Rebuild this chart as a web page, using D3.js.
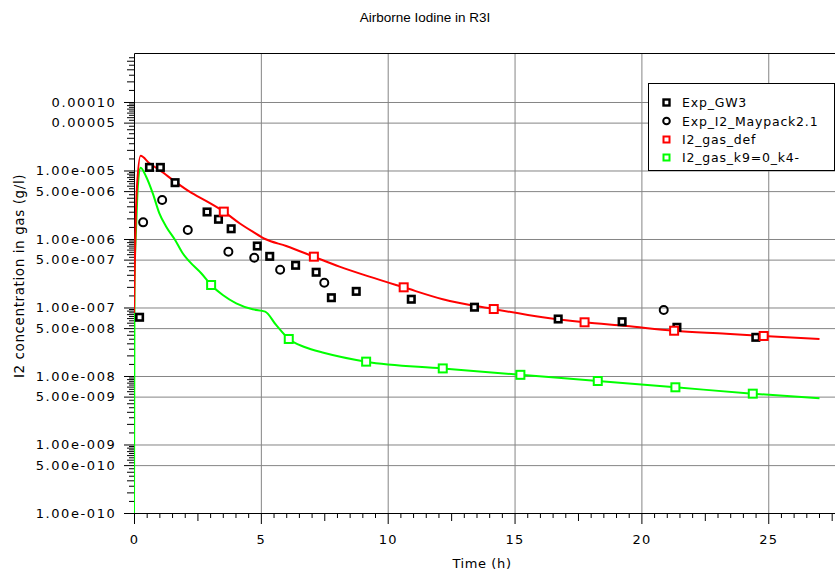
<!DOCTYPE html>
<html>
<head>
<meta charset="utf-8">
<script src="https://cdn.jsdelivr.net/npm/d3@7"></script>
<style>
  html, body { margin: 0; padding: 0; background: #fff; }
  svg { display: block; }
</style>
</head>
<body>
<svg id="chart" width="835" height="574"></svg>
<script>
// Measured gaseous I2 (Exp_GW3)
const gw3Time = [0.22, 0.61, 1.04, 1.62, 2.88, 3.33, 3.83, 4.86, 5.35, 6.37, 7.18, 7.78, 8.76, 10.93, 13.42, 16.72, 19.24, 21.4, 24.51];
const gw3Conc = [7.2e-8, 1.11e-5, 1.11e-5, 6.64e-6, 2.48e-6, 1.94e-6, 1.41e-6, 7.9e-7, 5.58e-7, 4.13e-7, 3.27e-7, 1.39e-7, 1.72e-7, 1.32e-7, 1.01e-7, 6.79e-8, 6.2e-8, 5.14e-8, 3.67e-8];

// Measured gaseous I2 (Exp_I2_Maypack2.1)
const maypackTime = [0.36, 1.11, 2.12, 3.72, 4.74, 5.76, 7.5, 20.88];
const maypackConc = [1.75e-6, 3.7e-6, 1.35e-6, 6.5e-7, 5.33e-7, 3.56e-7, 2.3e-7, 9.2e-8];

// Calculated I2_gas_def
const defTime = [0, 0.02, 0.05, 0.11, 0.26, 0.61, 1.0, 1.62, 2.19, 2.89, 3.54, 4.16, 4.68, 5.17, 6.0, 7.09, 8.1, 9.28, 10.63, 12.17, 14.18, 16.11, 17.76, 19.4, 21.29, 23.34, 24.82, 27.02];
const defConc = [8.3e-8, 2.4e-7, 9.7e-7, 5.2e-6, 1.64e-5, 1.27e-5, 1.02e-5, 6.87e-6, 4.91e-6, 3.51e-6, 2.51e-6, 1.70e-6, 1.28e-6, 1.0e-6, 7.9e-7, 5.52e-7, 3.95e-7, 2.82e-7, 1.97e-7, 1.32e-7, 9.5e-8, 7.19e-8, 6.08e-8, 5.37e-8, 4.58e-8, 4.15e-8, 3.84e-8, 3.47e-8];
const defMarkTime = [3.54, 7.09, 10.63, 14.18, 17.76, 21.29, 24.82];

// Calculated I2_gas_k9=0_k4-
const k9Time = [0, 0.02, 0.09, 0.15, 0.26, 0.48, 0.74, 1.0, 1.27, 1.62, 1.92, 2.19, 2.65, 3.04, 3.5, 4.03, 4.68, 5.17, 5.6, 6.1, 6.72, 7.51, 9.15, 12.17, 15.23, 18.28, 21.34, 24.39, 27.02];
const k9Conc = [1e-10, 2.38e-7, 1.69e-6, 5.8e-6, 1.1e-5, 8.1e-6, 4.64e-6, 2.37e-6, 1.51e-6, 9.66e-7, 6.18e-7, 4.67e-7, 3.16e-7, 2.13e-7, 1.52e-7, 1.15e-7, 9.4e-8, 8.7e-8, 5.56e-8, 3.47e-8, 2.65e-8, 2.17e-8, 1.62e-8, 1.29e-8, 1.04e-8, 8.45e-9, 6.84e-9, 5.52e-9, 4.72e-9];
const k9MarkTime = [3.04, 6.1, 9.15, 12.17, 15.23, 18.28, 21.34, 24.39];

// Axis ticks
const xTickValues = [0, 5, 10, 15, 20, 25];
const yTickValues = [1e-10, 5e-10, 1e-9, 5e-9, 1e-8, 5e-8, 1e-7, 5e-7, 1e-6, 5e-6, 1e-5, 5e-5, 1e-4];
const yTickLabels = ["1.00e-010", "5.00e-010", "1.00e-009", "5.00e-009", "1.00e-008", "5.00e-008", "1.00e-007", "5.00e-007", "1.00e-006", "5.00e-006", "1.00e-005", "0.00005", "0.00010"];

const legendNames = ["Exp_GW3", "Exp_I2_Maypack2.1", "I2_gas_def", "I2_gas_k9=0_k4-"];

const W = 835, H = 574;
const plotLeft = 134, plotTop = 53, plotBottom = 513;
const svg = d3.select("#chart");

const x = d3.scaleLinear().domain([0, 28]).range([plotLeft, plotLeft + 25.37 * 28]);
const y = d3.scaleLog().domain([1e-10, 5.19e-4]).range([plotBottom, plotTop]);

const gridColor = "#858585";
const tickFont = "DejaVu Sans, sans-serif";

// minor tick positions
const yMinorInt = [], yMinorHalf = [];
for (let e = -10; e <= -4; e++) {
  for (let m = 1.5; m < 10; m += 0.5) {
    const v = m * Math.pow(10, e);
    if (v > 5.19e-4 || m === 5) continue;
    (Number.isInteger(m) ? yMinorInt : yMinorHalf).push(v);
  }
}
const xMinorMid = [], xMinorSmall = [];
for (let t = 0.5; t <= 27.5; t += 0.5) {
  if (t % 5 === 0) continue;
  (t % 2.5 === 0 ? xMinorMid : xMinorSmall).push(t);
}

// grid
svg.append("g")
  .attr("transform", `translate(${plotLeft},0)`)
  .call(d3.axisLeft(y).tickValues(yTickValues.slice(1)).tickSize(-(W - plotLeft)).tickFormat("").tickSizeOuter(0))
  .call(g => g.select(".domain").remove())
  .call(g => g.selectAll("line").attr("stroke", gridColor));
svg.append("g")
  .attr("transform", `translate(0,${plotBottom})`)
  .call(d3.axisBottom(x).tickValues(xTickValues.slice(1)).tickSize(-(plotBottom - plotTop)).tickFormat("").tickSizeOuter(0))
  .call(g => g.select(".domain").remove())
  .call(g => g.selectAll("line").attr("stroke", gridColor));

// frame top
svg.append("line")
  .attr("x1", plotLeft + 0.5).attr("x2", W).attr("y1", plotTop + 0.5).attr("y2", plotTop + 0.5)
  .attr("stroke", "#000");

// y axis
const yAxisG = svg.append("g").attr("transform", `translate(${plotLeft},0)`);
yAxisG.append("g").call(d3.axisLeft(y).tickValues(yMinorHalf).tickSize(5).tickFormat("").tickSizeOuter(0))
  .call(g => g.select(".domain").remove());
yAxisG.append("g").call(d3.axisLeft(y).tickValues(yMinorInt).tickSize(7).tickFormat("").tickSizeOuter(0))
  .call(g => g.select(".domain").remove());
yAxisG.append("g").call(d3.axisLeft(y).tickValues(yTickValues).tickSize(10).tickPadding(7.5)
    .tickFormat((d, i) => yTickLabels[i]).tickSizeOuter(0))
  .call(g => g.selectAll("text")
    .attr("font-family", tickFont).attr("font-size", 13)
    .attr("letter-spacing", 1.6).attr("fill", "#000"));

// x axis
const xAxisG = svg.append("g").attr("transform", `translate(0,${plotBottom})`);
xAxisG.append("g").call(d3.axisBottom(x).tickValues(xMinorSmall).tickSize(5).tickFormat("").tickSizeOuter(0))
  .call(g => g.select(".domain").remove());
xAxisG.append("g").call(d3.axisBottom(x).tickValues(xMinorMid).tickSize(8).tickFormat("").tickSizeOuter(0))
  .call(g => g.select(".domain").remove());
xAxisG.append("g").call(d3.axisBottom(x).tickValues(xTickValues).tickSize(11).tickPadding(11).tickSizeOuter(0))
  .call(g => g.selectAll("text")
    .attr("font-family", tickFont).attr("font-size", 13)
    .attr("letter-spacing", 1.2).attr("fill", "#000"));

// titles
svg.append("text")
  .attr("x", 425).attr("y", 22).attr("text-anchor", "middle")
  .attr("font-family", "Liberation Sans, Arial, sans-serif").attr("font-size", 13.5)
  .text("Airborne Iodine in R3I");
svg.append("text")
  .attr("x", 482).attr("y", 568).attr("text-anchor", "middle")
  .attr("font-family", tickFont).attr("font-size", 13).attr("letter-spacing", 0.6)
  .text("Time (h)");
svg.append("text")
  .attr("transform", "translate(19,276) rotate(-90)")
  .attr("text-anchor", "middle").attr("dominant-baseline", "central")
  .attr("font-family", tickFont).attr("font-size", 13.5).attr("letter-spacing", 0.6)
  .text("I2 concentration in gas (g/l)");

// plot clip
svg.append("clipPath").attr("id", "plotClip")
  .append("rect").attr("x", plotLeft).attr("y", plotTop).attr("width", W - plotLeft).attr("height", plotBottom - plotTop + 1);
const plot = svg.append("g").attr("clip-path", "url(#plotClip)");

const line = d3.line().x(d => x(d[0])).y(d => y(d[1])).curve(d3.curveMonotoneX);
const zip = (ts, cs) => ts.map((t, i) => [t, cs[i]]);

const k9Data = zip(k9Time, k9Conc);
const defData = zip(defTime, defConc);

plot.append("path").datum(k9Data)
  .attr("d", line).attr("fill", "none").attr("stroke", "#00ff00").attr("stroke-width", 2);
plot.append("path").datum(defData)
  .attr("d", line).attr("fill", "none").attr("stroke", "#ff0000").attr("stroke-width", 2);

function squares(g, data, color, size, sw) {
  g.selectAll(null).data(data).enter().append("rect")
    .attr("x", d => x(d[0]) - size / 2).attr("y", d => y(d[1]) - size / 2)
    .attr("width", size).attr("height", size)
    .attr("fill", "#fff").attr("stroke", color).attr("stroke-width", sw);
}

// experimental points
squares(plot.append("g"), zip(gw3Time, gw3Conc), "#000", 6.5, 2.6);
plot.append("g").selectAll(null).data(zip(maypackTime, maypackConc)).enter().append("circle")
  .attr("cx", d => x(d[0])).attr("cy", d => y(d[1])).attr("r", 4)
  .attr("fill", "none").attr("stroke", "#000").attr("stroke-width", 2);

// model markers
squares(plot.append("g"), defData.filter(d => defMarkTime.includes(d[0])), "#ff0000", 8, 2);
squares(plot.append("g"), k9Data.filter(d => k9MarkTime.includes(d[0])), "#00ff00", 8, 2);

// legend
const lg = svg.append("g");
lg.append("rect").attr("x", 648.5).attr("y", 83.5).attr("width", 186).attr("height", 87)
  .attr("fill", "#fff").attr("stroke", "#000");
const rowY = [102.5, 121, 139.5, 157.5];
const legendColors = ["#000", "#000", "#ff0000", "#00ff00"];
legendNames.forEach((name, i) => {
  const cy = rowY[i];
  if (i === 1) {
    lg.append("circle").attr("cx", 666.5).attr("cy", cy).attr("r", 3.3)
      .attr("fill", "none").attr("stroke", "#000").attr("stroke-width", 2);
  } else {
    lg.append("rect").attr("x", 663.5).attr("y", cy - 3).attr("width", 6).attr("height", 6)
      .attr("fill", "#fff").attr("stroke", legendColors[i]).attr("stroke-width", i === 0 ? 2.4 : 2);
  }
  lg.append("text").attr("x", 682).attr("y", cy).attr("dominant-baseline", "central")
    .attr("font-family", tickFont).attr("font-size", 12.5).attr("letter-spacing", 0.8)
    .text(name);
});
</script>
</body>
</html>
